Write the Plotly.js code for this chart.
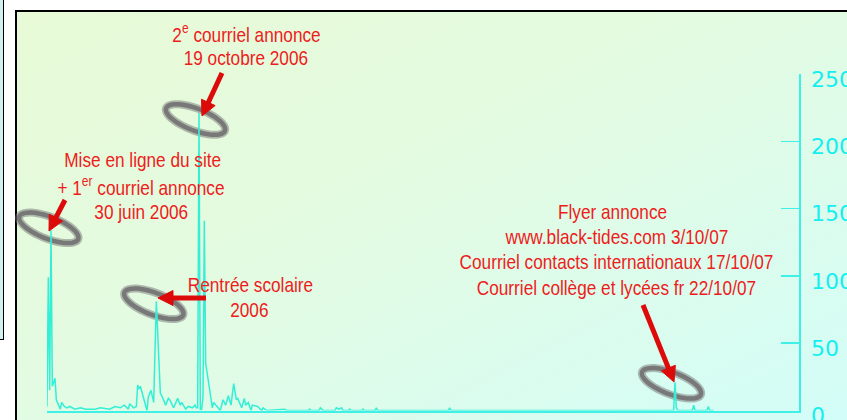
<!DOCTYPE html>
<html>
<head>
<meta charset="utf-8">
<script src="https://cdn.plot.ly/plotly-3.0.1.min.js"></script>
<style>
  body { margin:0; background:#ffffff; }
  #wrap { position:relative; width:847px; height:420px; overflow:hidden; background:#ffffff; }
  #side { position:absolute; left:-10px; top:-10px; width:13px; height:349px;
          border-right:1.5px solid #000; border-bottom:1.5px solid #000; background:#d3f0f0; }
  #bg { position:absolute; left:15px; top:10px; width:850px; height:420px;
        border-left:2px solid #000; border-top:2px solid #000;
        background:linear-gradient(to bottom right, #e8fad6 0%, #e3fbe2 45%, #d2fdf9 100%); }
  #chart { position:absolute; left:0; top:0; width:847px; height:420px; }
  #chart .annotation-text { transform-box: fill-box; transform-origin: center; transform: scaleX(0.82); }
</style>
</head>
<body>
<div id="wrap">
  <div id="side"></div>
  <div id="bg"></div>
  <div id="chart"></div>
</div>
<script>
// ---- data (day index since late June 2006, visits per day) ----
const days = [0, 1, 2, 3, 4, 6, 7, 10, 11, 13, 15, 17, 21, 25, 29, 36, 40, 47, 51, 55,
  58, 61, 62, 65, 67, 68, 69, 70, 75, 76, 78, 80, 82, 85, 87, 89, 91, 92, 95, 98,
  100, 101, 104, 106, 109, 111, 112, 113, 114, 115, 116, 117, 118, 119, 121, 124, 125, 128, 130, 132,
  134, 136, 138, 140, 142, 143, 146, 148, 149, 151, 153, 154, 157, 158, 161, 162, 165, 176, 178, 180,
  196, 197, 198, 204, 205, 206, 207, 216, 217, 219, 221, 222, 226, 227, 228, 236, 237, 238, 246, 247,
  248, 301, 302, 303, 470, 471, 472, 473, 484, 485, 486, 495, 496, 497, 500];
const visits = [3, 99, 15, 134, 18, 24, 8, 1, 6, 3, 2, 3, 1, 2, 1, 1, 2, 1, 3, 2,
  4, 1, 5, 2, 3, 19, 16, 18, 0, 10, 15, 6, 81, 13, 9, 4, 9, 8, 2, 9,
  4, 6, 1, 3, 2, 4, 2, 2, 221, 1, 1, 10, 141, 35, 22, 2, 6, 2, 0, 8,
  4, 11, 4, 20, 8, 9, 2, 9, 4, 6, 0, 4, 3, 3, 0, 2, 0, 1, 1, 0,
  0, 1, 0, 0, 2, 1, 0, 0, 2, 1, 2, 0, 0, 1, 0, 0, 1, 0, 0, 2,
  0, 0, 2, 0, 0, 21, 2, 0, 0, 4, 0, 0, 3, 0, 0];
const yTicks = [0, 50, 100, 150, 200, 250];
const yTickText = ['0', '50', '100', '150', '200', '250'];

// ---- annotation texts ----
const labelLines = [
  {t: '2<sup>e</sup> courriel annonce', x: 246, y: 33.5},
  {t: '19 octobre 2006', x: 246, y: 57.5},
  {t: 'Mise en ligne du site', x: 142, y: 159.5},
  {t: '+ 1<sup>er</sup> courriel annonce', x: 141, y: 186},
  {t: '30 juin 2006', x: 141, y: 211.5},
  {t: 'Rentrée scolaire', x: 250, y: 284},
  {t: '2006', x: 249.5, y: 309},
  {t: 'Flyer annonce', x: 612, y: 211.5},
  {t: 'www.black-tides.com 3/10/07', x: 616.5, y: 236.5},
  {t: 'Courriel contacts internationaux 17/10/07', x: 616.5, y: 261.5},
  {t: 'Courriel collège et lycées fr 22/10/07', x: 616.5, y: 287.5}
];
const arrows = [
  {hx: 202, hy: 116, tx: 222, ty: 73},
  {hx: 49, hy: 231, tx: 65, ty: 200},
  {hx: 158, hy: 298, tx: 206, ty: 298},
  {hx: 674, hy: 382, tx: 643, ty: 305}
];
const rings = [[195.5, 119.5], [48.8, 227.8], [153.8, 303.8], [671.5, 383.3]];

const W = 847, H = 420;
const PX = p => p / W;
const PY = p => 1 - p / H;
const pt = (x, y) => PX(x).toFixed(5) + ',' + PY(y).toFixed(5);

function ringPath(cx, cy, a, b, deg) {
  const th = deg * Math.PI / 180;
  let d = '';
  const n = 60;
  for (let i = 0; i <= n; i++) {
    const t = 2 * Math.PI * i / n;
    const x = cx + a * Math.cos(th) * Math.cos(t) - b * Math.sin(th) * Math.sin(t);
    const y = cy + a * Math.sin(th) * Math.cos(t) + b * Math.cos(th) * Math.sin(t);
    d += (i === 0 ? 'M' : 'L') + pt(x, y);
  }
  return d + 'Z';
}

const shapes = [];
rings.forEach(([cx, cy]) => {
  shapes.push({type: 'path', xref: 'paper', yref: 'paper', layer: 'below',
    path: ringPath(cx, cy, 31.5, 11, 21), line: {color: 'rgba(120,120,120,0.5)', width: 8}});
  shapes.push({type: 'path', xref: 'paper', yref: 'paper', layer: 'below',
    path: ringPath(cx, cy, 31.5, 11, 21), line: {color: '#787878', width: 4.5}});
});

const arrowColor = '#dd0a0a';
arrows.forEach(a => {
  const dx = a.hx - a.tx, dy = a.hy - a.ty;
  const len = Math.hypot(dx, dy);
  const ux = dx / len, uy = dy / len;
  const L = 15, w = 15;
  const bx = a.hx - ux * L, by = a.hy - uy * L;
  const nx = -uy, ny = ux;
  shapes.push({type: 'path', xref: 'paper', yref: 'paper', layer: 'above',
    path: 'M' + pt(a.tx, a.ty) + 'L' + pt(bx + ux * 2, by + uy * 2),
    line: {color: arrowColor, width: 5}});
  shapes.push({type: 'path', xref: 'paper', yref: 'paper', layer: 'above',
    path: 'M' + pt(a.hx, a.hy) + 'L' + pt(bx + nx * w / 2, by + ny * w / 2) +
          'L' + pt(bx - nx * w / 2, by - ny * w / 2) + 'Z',
    fillcolor: arrowColor, line: {color: arrowColor, width: 1}});
});

const redFont = {family: '"Liberation Sans", Arial, sans-serif', size: 21, color: '#ee1c1c'};
const annotations = labelLines.map(l => ({
  text: l.t, xref: 'paper', yref: 'paper', x: PX(l.x), y: PY(l.y),
  xanchor: 'center', yanchor: 'middle', showarrow: false, font: redFont
}));

const cyan = '#3ef0e6';
const trace = {
  x: days, y: visits, type: 'scatter', mode: 'lines',
  line: {color: '#33efd6', width: 1.5}, hoverinfo: 'skip'
};

const layout = {
  width: W, height: H,
  margin: {l: 0, r: 0, t: 0, b: 0},
  paper_bgcolor: 'rgba(0,0,0,0)', plot_bgcolor: 'rgba(0,0,0,0)',
  showlegend: false,
  xaxis: {
    domain: [47 / W, 799 / W], range: [0, 564],
    showline: true, linecolor: cyan, linewidth: 2,
    showgrid: false, zeroline: false, showticklabels: false, ticks: ''
  },
  yaxis: {
    domain: [(H - 410.5) / H, (H - 74) / H], range: [0, 250],
    side: 'right', anchor: 'x',
    showline: true, linecolor: cyan, linewidth: 1.5,
    showgrid: false, zeroline: false,
    ticks: 'inside', ticklen: 18, tickwidth: 1.5, tickcolor: cyan,
    tickvals: yTicks, ticktext: yTickText,
    tickfont: {family: '"DejaVu Sans", Verdana, sans-serif', size: 22, color: '#14efef'},
    ticklabelstandoff: 6, ticklabelshift: 5, ticklabeloverflow: 'allow'
  },
  shapes: shapes,
  annotations: annotations
};

Plotly.newPlot('chart', [trace], layout, {staticPlot: true, displayModeBar: false});
</script>
</body>
</html>
